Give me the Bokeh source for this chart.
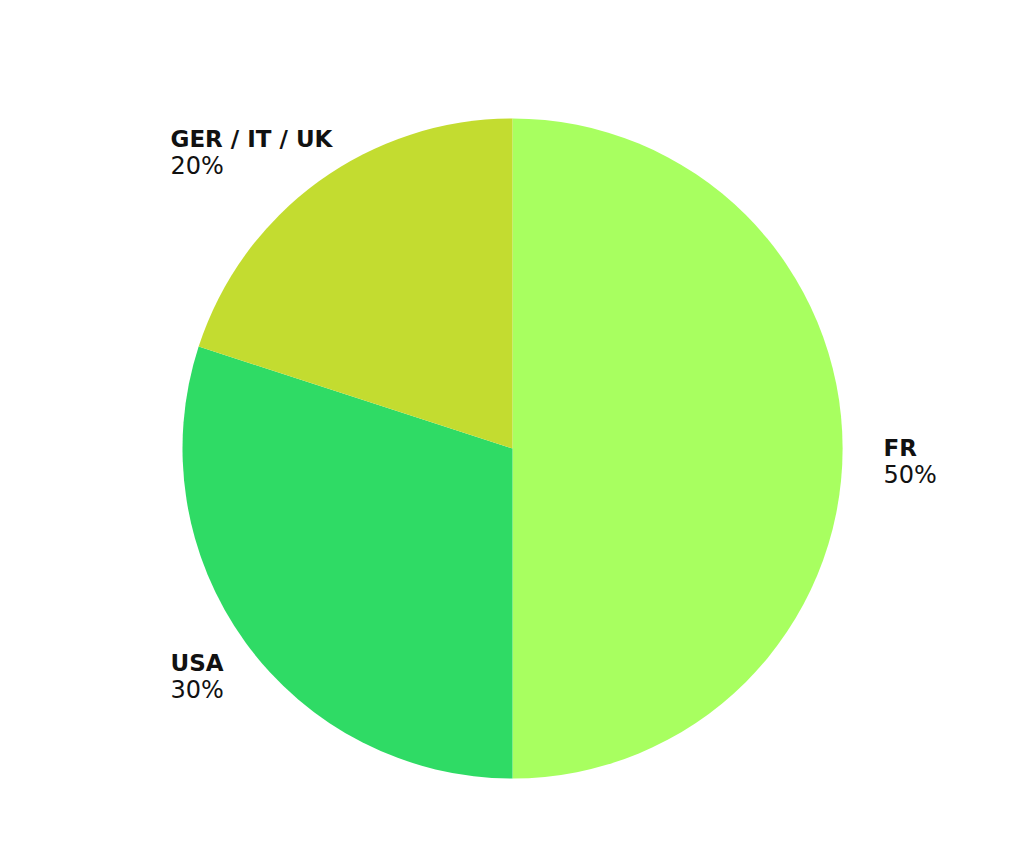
import math
from bokeh.plotting import figure
from bokeh.models import Range1d
from bokeh.core.properties import value
from bokeh.embed import file_html
from bokeh.resources import INLINE

# data
categories = ["FR", "USA", "GER / IT / UK"]
shares = [50, 30, 20]
colors = ["#a8ff60", "#2fdb65", "#c3dc30"]

# layout (screen pixel anchors of labels, left-aligned, baseline of first line)
label_x = [883, 170, 170]
label_y = [447, 662, 138]

W, H = 1008, 830
p = figure(width=W, height=H, output_backend="svg", toolbar_location=None,
           x_range=Range1d(0, W), y_range=Range1d(846 - H, 846),
           min_border=0, outline_line_color=None)
p.axis.visible = False
p.grid.visible = False
p.background_fill_color = "white"
p.border_fill_color = "white"

cx, cy, r = 512, 846 - 448, 330
total = sum(shares)
starts, ends = [], []
cum = 0
for s in shares:
    starts.append(math.pi / 2 - 2 * math.pi * cum / total)
    cum += s
    ends.append(math.pi / 2 - 2 * math.pi * cum / total)

p.wedge(x=[cx] * 3, y=[cy] * 3, radius=r, start_angle=starts, end_angle=ends,
        direction="clock", fill_color=colors, line_color=None)

FONT = "DejaVu Sans"
ys = [846 - y for y in label_y]
p.text(x=label_x, y=ys, text=categories, text_font=value(FONT),
       text_font_size="23px", text_font_style="bold", text_color="#111111",
       text_align="left", text_baseline="alphabetic")
p.text(x=label_x, y=[y - 27 for y in ys], text=[f"{s}%" for s in shares],
       text_font=value(FONT), text_font_size="24px", text_color="#111111",
       text_align="left", text_baseline="alphabetic")

open("out.html", "w").write(file_html(p, INLINE))
